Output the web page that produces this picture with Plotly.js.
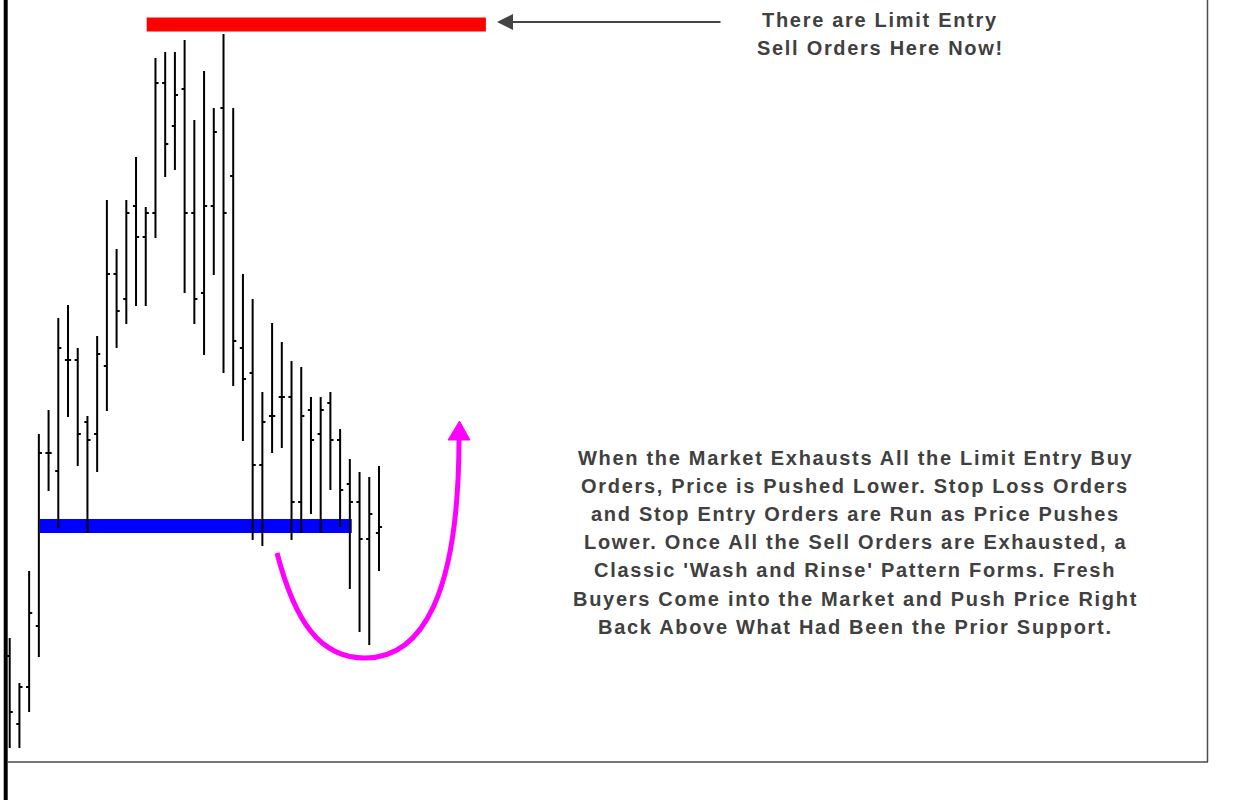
<!DOCTYPE html>
<html>
<head>
<meta charset="utf-8">
<script src="https://cdn.plot.ly/plotly-3.0.1.min.js"></script>
<style>
html,body{margin:0;padding:0;background:#fff;}
#chart{width:1240px;height:800px;}
.annotation-text{letter-spacing:1.7px;}
</style>
</head>
<body>
<div id="chart"></div>
<script>
// ---- data ----
const barIndex = [1,2,3,4,5,6,7,8,9,10,11,12,13,14,15,16,17,18,19,20,21,22,23,24,25,26,27,28,29,30,31,32,33,34,35,36,37,38,39];
const openPrices  = [1.3106,1.3038,1.3075,1.3136,1.3309,1.3291,1.3402,1.3402,1.3340,1.3328,1.3396,1.3488,1.3463,1.3556,1.3525,1.3549,1.3679,1.3636,1.3673,1.3549,1.3469,1.3556,1.3654,1.3586,1.3414,1.3389,1.3297,1.3346,1.3365,1.3365,1.3260,1.3352,1.3328,1.3359,1.3322,1.3278,1.3260,1.3223,1.3229];
const highPrices  = [1.3124,1.3079,1.3191,1.3328,1.3352,1.3444,1.3457,1.3414,1.3346,1.3426,1.3562,1.3513,1.3562,1.3605,1.3555,1.3704,1.3710,1.3710,1.3722,1.3642,1.3691,1.3654,1.3728,1.3654,1.3488,1.3463,1.3370,1.3439,1.3420,1.3401,1.3395,1.3365,1.3365,1.3370,1.3333,1.3303,1.3290,1.3285,1.3296];
const lowPrices   = [1.3014,1.3014,1.3050,1.3105,1.3271,1.3234,1.3345,1.3296,1.3229,1.3290,1.3351,1.3414,1.3438,1.3456,1.3456,1.3524,1.3585,1.3592,1.3469,1.3438,1.3407,1.3487,1.3389,1.3376,1.3321,1.3222,1.3216,1.3309,1.3314,1.3222,1.3229,1.3248,1.3229,1.3272,1.3235,1.3173,1.3130,1.3117,1.3191];
const closePrices = [1.3050,1.3075,1.3149,1.3309,1.3309,1.3414,1.3402,1.3328,1.3322,1.3408,1.3488,1.3451,1.3549,1.3525,1.3549,1.3679,1.3618,1.3667,1.3549,1.3463,1.3556,1.3630,1.3549,1.3421,1.3383,1.3297,1.3340,1.3346,1.3365,1.3260,1.3346,1.3322,1.3352,1.3322,1.3272,1.3260,1.3223,1.3248,1.3235];

const resistancePrice = 1.37375;
const resistanceSpan = [15.1, 50.0];
const supportPrice = 1.3236;
const supportSpan = [4.1, 36.2];

const topNote = ["There are Limit Entry", "Sell Orders Here Now!"];
const mainNote = [
  "When the Market Exhausts All the Limit Entry Buy",
  "Orders, Price is Pushed Lower. Stop Loss Orders",
  "and Stop Entry Orders are Run as Price Pushes",
  "Lower. Once All the Sell Orders are Exhausted, a",
  "Classic 'Wash and Rinse' Pattern Forms. Fresh",
  "Buyers Come into the Market and Push Price Right",
  "Back Above What Had Been the Prior Support."
];

// ---- helpers (paper coords from pixel) ----
const W = 1240, H = 800;
const px = x => x / W;
const py = y => 1 - y / H;

const textFont = {family: 'Liberation Sans, Arial, sans-serif', size: 20, color: '#404040'};

const trace = {
  type: 'ohlc',
  x: barIndex, open: openPrices, high: highPrices, low: lowPrices, close: closePrices,
  increasing: {line: {color: '#000', width: 2}},
  decreasing: {line: {color: '#000', width: 2}},
  tickwidth: 0.32,
  hoverinfo: 'skip',
  showlegend: false
};

const shapes = [
  // price levels
  {type:'line', layer:'below', xref:'x', yref:'y', x0:resistanceSpan[0], x1:resistanceSpan[1], y0:resistancePrice, y1:resistancePrice, line:{color:'#ff0000', width:14}},
  {type:'line', layer:'below', xref:'x', yref:'y', x0:supportSpan[0], x1:supportSpan[1], y0:supportPrice, y1:supportPrice, line:{color:'#0000ff', width:14}},
  // frame
  {type:'line', xref:'paper', yref:'paper', x0:px(5.7), x1:px(5.7), y0:py(0), y1:py(800), line:{color:'#000', width:4}},
  {type:'line', xref:'paper', yref:'paper', x0:px(7), x1:px(1208), y0:py(762), y1:py(762), line:{color:'#4a4a4a', width:1.5}},
  {type:'line', xref:'paper', yref:'paper', x0:px(1207.5), x1:px(1207.5), y0:py(0), y1:py(762), line:{color:'#4a4a4a', width:1.5}},
  // magenta wash-and-rinse arc
  {type:'path', xref:'paper', yref:'paper',
   path: 'M ' + px(277) + ',' + py(553) +
         ' C ' + px(295) + ',' + py(622) + ' ' + px(320) + ',' + py(658) + ' ' + px(365) + ',' + py(658) +
         ' C ' + px(422) + ',' + py(658) + ' ' + px(459) + ',' + py(595) + ' ' + px(459) + ',' + py(438),
   line:{color:'#ff00ff', width:5}},
  {type:'path', xref:'paper', yref:'paper',
   path: 'M ' + px(448) + ',' + py(440) + ' L ' + px(459.5) + ',' + py(421) + ' L ' + px(470) + ',' + py(440) + ' Z',
   fillcolor:'#ff00ff', line:{color:'#ff00ff', width:1}}
];

const annotations = [];
// arrow pointing to red level
annotations.push({xref:'paper', yref:'paper', x:px(497), y:py(22), axref:'paper', ayref:'paper', ax:px(722), ay:py(22),
  text:'', showarrow:true, arrowhead:2, arrowsize:1.6, arrowwidth:2, arrowcolor:'#444'});
topNote.forEach((t, i) => annotations.push({xref:'paper', yref:'paper', x:px(880), y:py(20 + i*28),
  xanchor:'center', yanchor:'middle', showarrow:false, text:'<b>' + t + '</b>', font:textFont}));
mainNote.forEach((t, i) => annotations.push({xref:'paper', yref:'paper', x:px(855), y:py(458 + i*28.1),
  xanchor:'center', yanchor:'middle', showarrow:false, text:'<b>' + t + '</b>', font:textFont}));

const x0 = 1 - 9.7/9.718;
const layout = {
  width: W, height: H,
  margin: {l:0, r:0, t:0, b:0, pad:0},
  paper_bgcolor: '#fff', plot_bgcolor: '#fff',
  showlegend: false,
  xaxis: {range:[x0, x0 + W/9.718], visible:false, showgrid:false, zeroline:false, rangeslider:{visible:false}, fixedrange:true},
  yaxis: {range:[1.2962, 1.3762], visible:false, showgrid:false, zeroline:false, fixedrange:true},
  shapes: shapes,
  annotations: annotations
};

Plotly.newPlot('chart', [trace], layout, {staticPlot:true, displayModeBar:false});
</script>
</body>
</html>
